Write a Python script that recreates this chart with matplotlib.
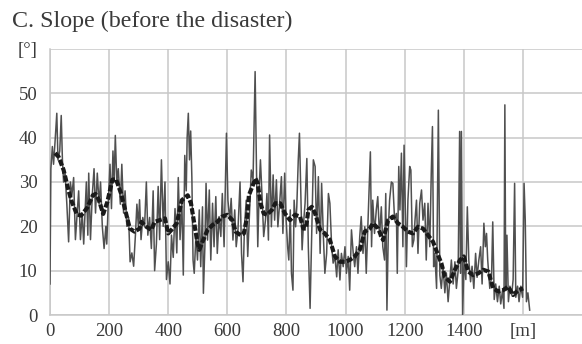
import matplotlib
matplotlib.use("Agg")
import matplotlib.pyplot as plt

# ---- data ----
title = "C. Slope (before the disaster)"
x_ticks = [0, 200, 400, 600, 800, 1000, 1200, 1400, 1600]
x_labels = ["0", "200", "400", "600", "800", "1000", "1200", "1400", "[m]"]
y_ticks = [0, 10, 20, 30, 40, 50, 60]
y_labels = ["0", "10", "20", "30", "40", "50", "[°]"]

dist_raw = [0, 3, 8, 12, 17, 23, 27, 33, 38, 42, 46, 51, 57, 63, 69, 74, 80, 86, 91, 97,
            103, 109, 114, 120, 123, 128, 131, 137, 143, 149, 154, 160, 166, 171, 177, 183, 189, 192, 197,
            203, 208, 213, 217, 221, 226, 231, 238, 243, 249, 254, 260, 266, 271, 277, 283, 289, 294, 299,
            303, 308, 314, 320, 326, 331, 337, 343, 349, 354, 360, 366, 371, 377, 383, 389, 394,
            400, 406, 411, 417, 423, 429, 434, 440, 446, 451, 456, 461, 464, 468, 472, 476, 480, 484, 488, 494, 499,
            505, 510, 516, 519, 524, 528, 533, 539, 544, 550, 555, 561, 566, 572, 578, 583, 589, 597,
            602, 608, 613, 619, 625, 630, 636, 643, 648, 653, 658, 664, 669, 675, 681, 687, 694, 699,
            703, 708, 712, 718, 723, 729, 734, 739, 743, 749, 755, 760, 766, 771, 777, 783, 788, 794, 799,
            804, 808, 813, 817, 822, 826, 831, 835, 840, 844, 849, 853, 857, 863, 869, 874, 880, 886, 891, 897,
            902, 908, 914, 919, 925, 930, 936, 942, 947, 953, 958, 964, 970, 975, 981, 986, 992, 998,
            1003, 1009, 1014, 1020, 1026, 1031, 1037, 1042, 1048, 1053, 1059, 1065, 1070, 1076, 1080, 1084, 1088, 1092, 1098,
            1104, 1109, 1115, 1121, 1126, 1132, 1136, 1140, 1145, 1149, 1155, 1160, 1166, 1172, 1175, 1180, 1184, 1189, 1194, 1198,
            1202, 1206, 1211, 1217, 1221, 1226, 1231, 1235, 1240, 1245, 1251, 1257, 1262, 1268, 1273, 1279, 1285, 1290, 1294, 1298,
            1302, 1308, 1314, 1319, 1324, 1330, 1336, 1341, 1347, 1353, 1358, 1364, 1370, 1375, 1381, 1386, 1389, 1392, 1396,
            1401, 1407, 1412, 1417, 1423, 1428, 1434, 1440, 1445, 1451, 1457, 1462, 1468, 1473, 1477, 1481, 1488, 1494, 1498,
            1503, 1508, 1514, 1520, 1525, 1531, 1536, 1539, 1542, 1546, 1551, 1556, 1562, 1567, 1572, 1576, 1582, 1587, 1593, 1599,
            1604, 1608, 1612, 1617, 1623]
slope_raw = [7, 33, 38, 34, 39, 45.5, 35, 37, 45, 35, 30, 32, 25, 16.5, 30, 27, 31, 17, 22, 28,
             17, 23, 16, 25, 30, 18, 32, 17, 27, 33, 23, 32, 25, 30, 20, 15, 20, 16, 25,
             34, 24, 37, 30, 40.5, 30, 33, 25, 34, 23, 28, 20, 22, 12, 14, 11, 18, 25, 20,
             26, 17, 22, 20, 30, 18, 22, 15, 28, 10, 16, 29, 17, 35, 20, 30, 8,
             12, 7, 18, 13, 24, 14, 31, 17, 26, 9, 36, 28, 40, 45.5, 35, 41.5, 31, 12.4, 9.4, 18.4, 12.4,
             23.7, 10.9, 24.4, 4.9, 15.4, 29.7, 16.9, 28.2, 12.4, 25.2, 15.4, 26.7, 13.9, 22.2, 17.7, 27.4, 15.4, 41,
             25.9, 21.4, 26.3, 16.9, 23.7, 15.4, 19.2, 30, 13.9, 7.5, 19.9, 25.9, 13.2, 22.9, 32.7, 30.5, 54.9, 31.2,
             15.4, 28.9, 35, 25.9, 17.7, 21.4, 27.4, 16.9, 40.6, 19.9, 31.6, 21.4, 30.5, 19.9, 25.2, 31.2, 18.4, 32, 21.4,
             15.4, 12.4, 23.7, 9.4, 5.6, 25.9, 19.9, 24.4, 35, 41, 25.9, 14.7, 19.9, 25.2, 35.3, 15.4, 1.5, 19.9, 35, 33.5,
             18.4, 31.2, 13.9, 29.7, 17.7, 9.4, 13.9, 27.4, 25.2, 15.4, 11.7, 13.2, 8.6, 14.7, 7.9, 13.9, 10.9, 15.4,
             9.4, 13.2, 5.6, 19.2, 13.9, 10.9, 15.4, 9.4, 17.7, 22.2, 13.9, 19.9, 9.4, 21.4, 28.9, 36.8, 15.4, 25.9, 18.4,
             23.7, 26.7, 17.7, 24.4, 15.4, 12.4, 27.4, 1.1, 19.9, 25.9, 30, 29.7, 21.4, 22.9, 9.4, 33.5, 23.7, 36.5, 15.4, 38.3,
             25.2, 10.9, 25.9, 33.5, 32.7, 15.4, 16.9, 21.4, 25.9, 13.9, 25.2, 28.2, 21.4, 25.2, 12.4, 25.2, 15.4, 32, 42.5, 10.9,
             13.9, 6, 46.2, 9, 6, 11, 5, 9.5, 3, 8, 12.4, 7, 12, 6, 10, 41.4, 9.4, 41.4, 0,
             12.4, 8, 24.4, 12.4, 7.5, 11, 6, 13.9, 8.5, 12.4, 15.4, 7, 20.7, 15.4, 18.4, 12.4, 6, 8.6, 21,
             3.5, 7, 3, 6.5, 2.5, 5.5, 1.5, 47.4, 5.5, 18, 3, 6.5, 4.5, 8, 29.7, 4, 6.5, 3, 6.5, 4,
             29.7, 21.4, 3, 5, 1.1]

dist_smooth = [17, 29, 46, 63, 74, 91, 105, 126, 145, 154, 165, 180, 194, 211, 223, 240, 257, 270, 286,
               303, 309, 326, 343, 354, 371, 389, 400, 411, 429, 446, 466, 477, 488, 499, 505, 516, 533, 550, 566, 583,
               600, 617, 628, 645, 656, 667, 673, 684, 695, 703, 712, 723, 734, 751, 762, 779, 795,
               812, 829, 846, 857, 866, 874, 886, 897, 914, 930, 947, 964, 981, 998,
               1014, 1031, 1048, 1065, 1082, 1093, 1110, 1127, 1144, 1160, 1177, 1194,
               1211, 1228, 1245, 1262, 1279, 1296, 1313, 1324, 1336, 1353, 1370, 1387, 1400,
               1415, 1432, 1449, 1466, 1483, 1500, 1517, 1533, 1550, 1567, 1584, 1601]
slope_smooth = [36.5, 35.7, 32.7, 28, 25.5, 22.7, 22.4, 24.2, 27, 27.3, 26, 22.8, 25.5, 30.5, 30.7, 27.5, 23, 19.5, 18.8,
                19.5, 21, 19.9, 19.2, 21, 21.4, 21.8, 18.4, 19.2, 20.7, 25.9, 27, 25.2, 20.7, 16.2, 14.7, 16.5, 19.2, 20.3, 21, 22.2,
                22.6, 21.4, 18.8, 18, 18.4, 22.2, 27, 28.9, 30.8, 29.7, 25.2, 22.9, 22.6, 23.7, 25.2, 25.2, 22.9,
                21.4, 22.6, 22.2, 19.5, 19.5, 23.7, 24.4, 22.9, 19.2, 18.4, 16.9, 13.2, 12, 12,
                12.4, 13.2, 14.7, 18.8, 19.5, 20.7, 19.5, 16.9, 21.4, 22.2, 20.7, 19.9,
                18.8, 18.4, 19.9, 19.5, 18, 16.5, 13.5, 11.7, 8.6, 7.5, 10.2, 12.4, 13.2,
                9.8, 9, 9.4, 10.2, 9.8, 6, 5.3, 5.6, 6.4, 4.5, 5.6, 6]

# ---- figure ----
plt.rcParams['font.family'] = ['Liberation Serif', 'DejaVu Serif']
fig = plt.figure(figsize=(5.82, 3.44), dpi=100)
ax = fig.add_axes([50 / 582, 29 / 344, 1 - 50 / 582, 0.7733])

grid_c = '#c8c8c8'
txt_c = '#3a3a3a'

ax.plot(dist_raw, slope_raw, color='#505050', lw=1.1, zorder=3)
ax.plot(dist_smooth, slope_smooth, color='#1a1a1a', lw=3.0,
        linestyle=(0, (1.5, 0.5)), zorder=4)

ax.set_xlim(0, 1800)
ax.set_ylim(0, 60)
ax.set_xticks(x_ticks)
ax.set_xticklabels(x_labels)
ax.set_yticks(y_ticks)
ax.set_yticklabels(y_labels)
ax.tick_params(axis='both', length=0, labelsize=13.5, colors=txt_c)
ax.tick_params(axis='x', pad=6)
ax.tick_params(axis='y', pad=9)
ax.grid(True, color=grid_c, lw=1.1, zorder=0)
ax.set_axisbelow(True)
for s in ['top', 'right']:
    ax.spines[s].set_visible(False)
for s in ['left', 'bottom']:
    ax.spines[s].set_color(grid_c)
    ax.spines[s].set_linewidth(1.1)

fig.text(12.5 / 582, 1 - 27 / 344, title, fontsize=17.3, color=txt_c,
         ha='left', va='baseline')

fig.savefig('out.png', dpi=100)
